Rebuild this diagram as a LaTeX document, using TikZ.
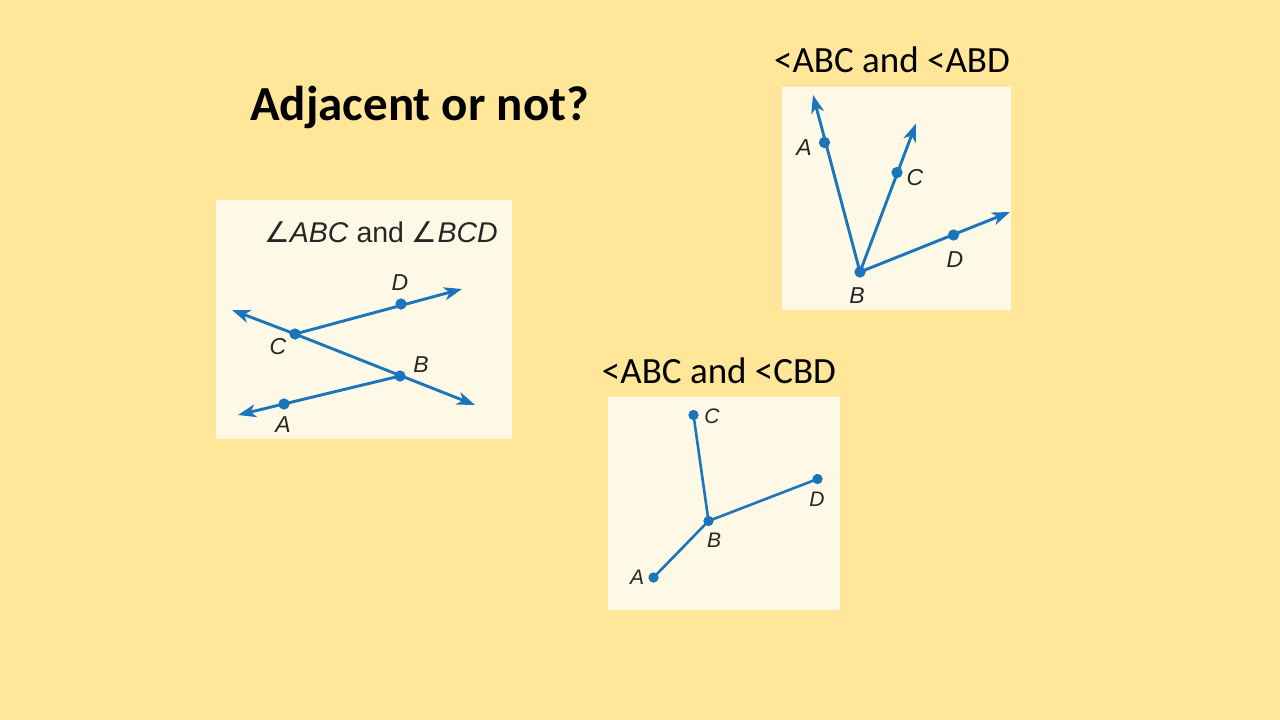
\documentclass[tikz,border=0pt]{standalone}
\usepackage{fontspec}
\setmainfont{Carlito}
\newfontfamily\lab{Liberation Sans}
\newfontfamily\sym{DejaVu Sans}
\usetikzlibrary{arrows.meta}
\definecolor{bgy}{HTML}{FFE699}
\definecolor{cream}{HTML}{FEF8E6}
\definecolor{gblue}{HTML}{1B75BB}
\tikzset{
  panel/.style={fill=cream, draw=none},
  ray/.style={gblue, line width=2.9pt, -{Stealth[length=18pt,width=13pt,inset=5pt]}},
  seg/.style={gblue, line width=2.6pt},
  pt/.style={circle, fill=gblue, inner sep=0pt, minimum size=11pt},
  lbl/.style={font=\fontsize{23}{26}\lab\itshape, inner sep=0pt, text=black!85},
  sub/.style={font=\fontsize{37}{44}\selectfont, inner sep=0pt},
}
\begin{document}
\begin{tikzpicture}[x=1pt,y=-1pt]
\fill[bgy] (0,0) rectangle (1280,720);
\useasboundingbox (0,0) rectangle (1280,720);

% title
\node[font=\fontsize{49}{56}\selectfont\bfseries, anchor=base west, inner sep=0pt] (title) at (250,120.5) {Adjacent or not?};

% ---- panel 1
\fill[panel] (216,200) rectangle (512,439);
\node[font=\fontsize{28.5}{32}\lab, anchor=base, inner sep=0pt, text=black!85] (t1) at (381,242)
  {{\sym\char"2220}\textit{ABC} and {\sym\char"2220}\textit{BCD}};
\node[pt] (C1) at (295,334) {};
\node[pt] (D1) at (401,304) {};
\node[pt] (B1) at (400,376) {};
\node[pt] (A1) at (284,404) {};
\coordinate (Dt1) at (462,289);
\coordinate (Ct1) at (232,310);
\coordinate (Bt1) at (475,405);
\coordinate (At1) at (238,415);
\draw[ray] (C1.center) -- (Dt1);
\draw[ray] (C1.center) -- (Ct1);
\draw[ray] (C1.center) -- (Bt1);
\draw[ray] (B1.center) -- (At1);
\node[pt] at (C1) {};
\node[pt] at (D1) {};
\node[pt] at (B1) {};
\node[pt] at (A1) {};
\node[lbl] (lD1) at (400,283) {D};
\node[lbl] (lC1) at (278,347) {C};
\node[lbl] (lB1) at (421,365) {B};
\node[lbl] (lA1) at (283,425) {A};

% ---- panel 2
\node[sub, anchor=base] (t2) at (892,72.5) {<ABC and <ABD};
\fill[panel] (782,87) rectangle (1011,310);
\node[pt] (B2) at (860,272) {};
\node[pt] (A2) at (824.5,142.5) {};
\node[pt] (C2) at (897,172.5) {};
\node[pt] (D2) at (953.5,235) {};
\coordinate (At2) at (813,95);
\coordinate (Ct2) at (916,123.5);
\coordinate (Dt2) at (1010,212);
\draw[ray] (B2.center) -- (At2);
\draw[ray] (B2.center) -- (Ct2);
\draw[ray] (B2.center) -- (Dt2);
\node[pt] at (B2) {};
\node[pt] at (A2) {};
\node[pt] at (C2) {};
\node[pt] at (D2) {};
\node[lbl] (lA2) at (804,148) {A};
\node[lbl] (lC2) at (915,178) {C};
\node[lbl] (lD2) at (955,260) {D};
\node[lbl] (lB2) at (857,296) {B};

% ---- panel 3
\node[sub, anchor=base] (t3) at (719,383) {<ABC and <CBD};
\fill[panel] (608,397) rectangle (840,610);
\node[pt, minimum size=10pt] (C3) at (693.5,415) {};
\node[pt, minimum size=10pt] (B3) at (708.5,521) {};
\node[pt, minimum size=10pt] (D3) at (817.5,479) {};
\node[pt, minimum size=10pt] (A3) at (653.5,577.5) {};
\draw[seg] (B3.center) -- (C3.center);
\draw[seg] (B3.center) -- (D3.center);
\draw[seg] (B3.center) -- (A3.center);
\node[pt, minimum size=10pt] at (C3) {};
\node[pt, minimum size=10pt] at (B3) {};
\node[pt, minimum size=10pt] at (D3) {};
\node[pt, minimum size=10pt] at (A3) {};
\node[lbl, font=\fontsize{21}{24}\lab\itshape] (lC3) at (712,416) {C};
\node[lbl, font=\fontsize{21}{24}\lab\itshape] (lD3) at (817,499) {D};
\node[lbl, font=\fontsize{21}{24}\lab\itshape] (lB3) at (714,540) {B};
\node[lbl, font=\fontsize{21}{24}\lab\itshape] (lA3) at (637,577) {A};
\end{tikzpicture}
\end{document}
